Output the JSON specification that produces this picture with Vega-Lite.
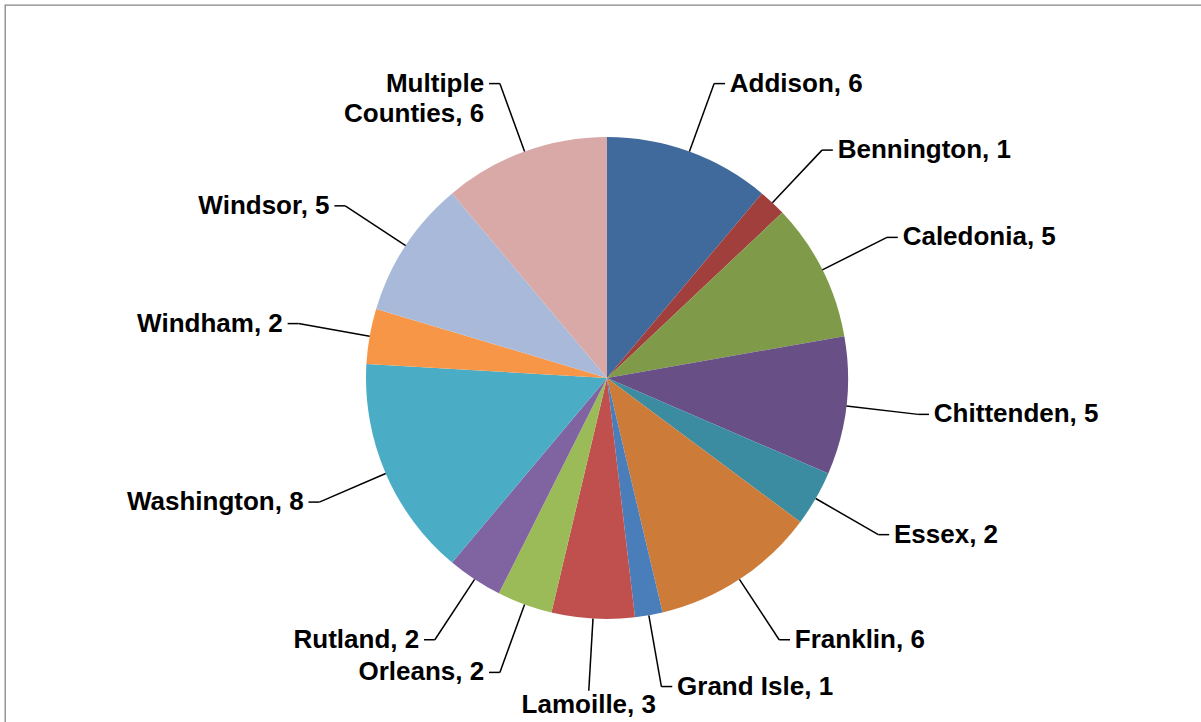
{
  "$schema": "https://vega.github.io/schema/vega-lite/v6.json",
  "width": 1199,
  "height": 720,
  "autosize": {"type": "none"},
  "padding": {"left": 5, "top": 5, "right": -3, "bottom": -3},
  "background": "white",
  "config": {"view": {"stroke": "#868686", "strokeWidth": 1.3}},
  "data": {"values": [
    {"county": "Addison", "count": 6, "order": 1},
    {"county": "Bennington", "count": 1, "order": 2},
    {"county": "Caledonia", "count": 5, "order": 3},
    {"county": "Chittenden", "count": 5, "order": 4},
    {"county": "Essex", "count": 2, "order": 5},
    {"county": "Franklin", "count": 6, "order": 6},
    {"county": "Grand Isle", "count": 1, "order": 7},
    {"county": "Lamoille", "count": 3, "order": 8},
    {"county": "Orleans", "count": 2, "order": 9},
    {"county": "Rutland", "count": 2, "order": 10},
    {"county": "Washington", "count": 8, "order": 11},
    {"county": "Windham", "count": 2, "order": 12},
    {"county": "Windsor", "count": 5, "order": 13},
    {"county": "Multiple Counties", "count": 6, "order": 14}
  ]},
  "transform": [
    {"window": [{"op": "sum", "field": "count", "as": "cum"}], "sort": [{"field": "order"}], "frame": [null, 0]},
    {"joinaggregate": [{"op": "sum", "field": "count", "as": "total"}]},
    {"calculate": "2*PI*(datum.cum - datum.count/2)/datum.total", "as": "mid"},
    {"calculate": "sin(datum.mid)", "as": "sx"},
    {"calculate": "cos(datum.mid)", "as": "cy"},
    {"calculate": "abs(datum.sx) < 0.12 ? 0 : (datum.sx > 0 ? 1 : -1)", "as": "side"},
    {"calculate": "1.3*datum.sx", "as": "x1"},
    {"calculate": "1.3*datum.cy", "as": "y1"},
    {"calculate": "datum.x1 + 0.045*datum.side", "as": "x2"},
    {"calculate": "datum.x2 + 0.02*datum.side", "as": "tx"},
    {"calculate": "datum.side == 0 ? datum.y1 - 0.005 : datum.y1", "as": "ty"},
    {"calculate": "replace(datum.county, 'Multiple ', 'Multiple\\n') + ', ' + datum.count", "as": "label"}
  ],
  "layer": [
    {
      "mark": {"type": "arc", "outerRadius": 241},
      "encoding": {
        "theta": {"field": "count", "type": "quantitative", "stack": true},
        "order": {"field": "order", "type": "quantitative"},
        "color": {"field": "county", "type": "nominal", "legend": null,
          "scale": {
            "domain": ["Addison", "Bennington", "Caledonia", "Chittenden", "Essex", "Franklin", "Grand Isle", "Lamoille", "Orleans", "Rutland", "Washington", "Windham", "Windsor", "Multiple Counties"],
            "range": ["#406A9C", "#A03F3C", "#7F9A48", "#684F86", "#3B8CA0", "#CC7B38", "#4A7EBB", "#C0504D", "#9BBB59", "#8064A2", "#4BACC6", "#F79646", "#A9B9D9", "#D9A9A8"]
          }},
        "x": {"datum": 0, "type": "quantitative", "axis": null, "scale": {"domain": [-2.49793, 2.47718], "nice": false, "zero": false}},
        "y": {"datum": 0, "type": "quantitative", "axis": null, "scale": {"domain": [-1.43983, 1.54772], "nice": false, "zero": false}}
      }
    },
    {
      "mark": {"type": "rule", "color": "black", "strokeWidth": 1.5},
      "encoding": {
        "x": {"field": "sx", "type": "quantitative", "axis": null, "scale": {"domain": [-2.49793, 2.47718], "nice": false, "zero": false}},
        "y": {"field": "cy", "type": "quantitative", "axis": null, "scale": {"domain": [-1.43983, 1.54772], "nice": false, "zero": false}},
        "x2": {"field": "x1"},
        "y2": {"field": "y1"}
      }
    },
    {
      "mark": {"type": "rule", "color": "black", "strokeWidth": 1.5},
      "encoding": {
        "x": {"field": "x1", "type": "quantitative", "axis": null, "scale": {"domain": [-2.49793, 2.47718], "nice": false, "zero": false}},
        "y": {"field": "y1", "type": "quantitative", "axis": null, "scale": {"domain": [-1.43983, 1.54772], "nice": false, "zero": false}},
        "x2": {"field": "x2"}
      }
    },
    {
      "transform": [{"filter": "datum.side == 1"}],
      "mark": {"type": "text", "align": "left", "baseline": "middle", "font": "Liberation Sans", "fontWeight": "bold", "fontSize": 26, "color": "black", "lineBreak": "\n", "lineHeight": 30},
      "encoding": {
        "x": {"field": "tx", "type": "quantitative", "axis": null, "scale": {"domain": [-2.49793, 2.47718], "nice": false, "zero": false}},
        "y": {"field": "ty", "type": "quantitative", "axis": null, "scale": {"domain": [-1.43983, 1.54772], "nice": false, "zero": false}},
        "text": {"field": "label"}
      }
    },
    {
      "transform": [{"filter": "datum.side == -1"}],
      "mark": {"type": "text", "align": "right", "baseline": "middle", "font": "Liberation Sans", "fontWeight": "bold", "fontSize": 26, "color": "black", "lineBreak": "\n", "lineHeight": 30},
      "encoding": {
        "x": {"field": "tx", "type": "quantitative", "axis": null, "scale": {"domain": [-2.49793, 2.47718], "nice": false, "zero": false}},
        "y": {"field": "ty", "type": "quantitative", "axis": null, "scale": {"domain": [-1.43983, 1.54772], "nice": false, "zero": false}},
        "text": {"field": "label"}
      }
    },
    {
      "transform": [{"filter": "datum.side == 0"}],
      "mark": {"type": "text", "align": "center", "baseline": "top", "font": "Liberation Sans", "fontWeight": "bold", "fontSize": 26, "color": "black", "lineBreak": "\n", "lineHeight": 30},
      "encoding": {
        "x": {"field": "tx", "type": "quantitative", "axis": null, "scale": {"domain": [-2.49793, 2.47718], "nice": false, "zero": false}},
        "y": {"field": "ty", "type": "quantitative", "axis": null, "scale": {"domain": [-1.43983, 1.54772], "nice": false, "zero": false}},
        "text": {"field": "label"}
      }
    }
  ]
}
